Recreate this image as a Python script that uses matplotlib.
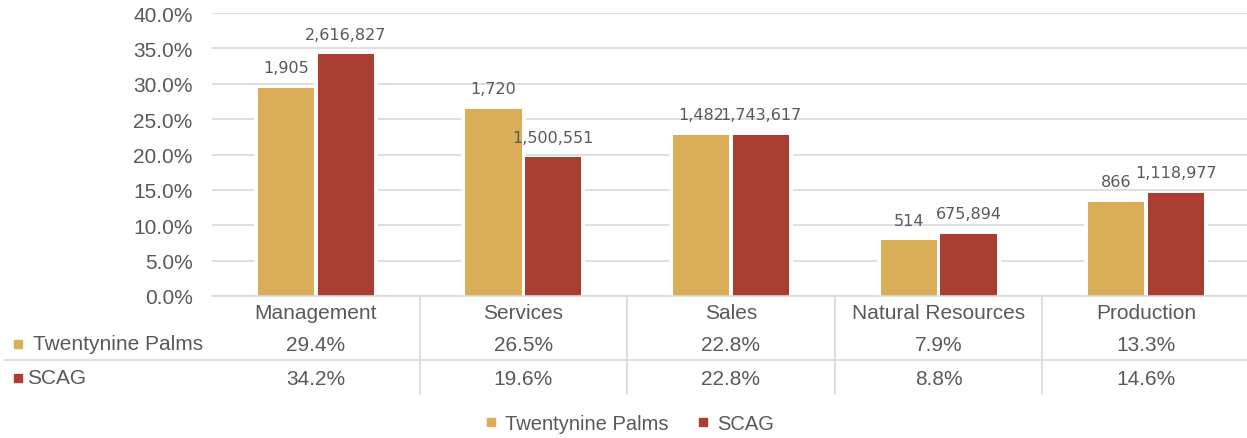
import matplotlib.pyplot as plt
from matplotlib.lines import Line2D
from matplotlib.transforms import blended_transform_factory
import numpy as np

categories = ["Management", "Services", "Sales", "Natural Resources", "Production"]
series = ["Twentynine Palms", "SCAG"]
tp_share = [29.4, 26.5, 22.8, 7.9, 13.3]
scag_share = [34.2, 19.6, 22.8, 8.8, 14.6]
tp_count = ["1,905", "1,720", "1,482", "514", "866"]
scag_count = ["2,616,827", "1,500,551", "1,743,617", "675,894", "1,118,977"]

gold = "#DAAE59"
red = "#AA3E33"
txt = "#595959"
grid = "#D9D9D9"
fs = 15

plt.rcParams["font.family"] = ["Liberation Sans", "DejaVu Sans"]

fig = plt.figure(figsize=(12.47, 4.39), dpi=100)
ax = fig.add_axes([212 / 1247, 1 - 297 / 439, 1038 / 1247, 283 / 439])

x = np.arange(len(categories))
w = 0.27
off = 0.144
tp = np.array(tp_share) / 100
sc = np.array(scag_share) / 100
# white backing so gridlines stop short of the bars
ax.bar(x - off, tp, 0.31, color="white", zorder=2.5)
ax.bar(x + off, sc, 0.31, color="white", zorder=2.5)
b1 = ax.bar(x - off, tp, w, color=gold, zorder=3)
b2 = ax.bar(x + off, sc, w, color=red, zorder=3)

for bars, labs in [(b1, tp_count), (b2, scag_count)]:
    for rect, lab in zip(bars, labs):
        ax.annotate(lab, (rect.get_x() + rect.get_width() / 2, rect.get_height()),
                    xytext=(0, 9), textcoords="offset points", ha="center", va="bottom",
                    fontsize=11.5, color=txt, family="DejaVu Sans", zorder=4)

ax.set_ylim(0, 0.4)
ax.set_xlim(-0.5, 4.5)
ticks = np.arange(0, 0.401, 0.05)
ax.set_yticks(ticks)
ax.set_yticklabels([f"{v * 100:.1f}%" for v in ticks])
ax.tick_params(axis="y", length=0, pad=14, labelsize=fs, labelcolor=txt)
ax.set_xticks([])
ax.grid(axis="y", color=grid, linewidth=1.2, zorder=0)
for s in ["top", "right", "left"]:
    ax.spines[s].set_visible(False)
ax.spines["bottom"].set_color(grid)
ax.spines["bottom"].set_linewidth(1.2)
ax.spines["bottom"].set_zorder(3.5)

# data table under the axis
tr = blended_transform_factory(ax.transData, ax.transAxes)
row_y = [-0.058, -0.172, -0.292]
for i, c in enumerate(categories):
    ax.text(i, row_y[0], c, transform=tr, ha="center", va="center", fontsize=fs, color=txt)
    ax.text(i, row_y[1], f"{tp_share[i]:.1f}%", transform=tr, ha="center", va="center", fontsize=fs, color=txt)
    ax.text(i, row_y[2], f"{scag_share[i]:.1f}%", transform=tr, ha="center", va="center", fontsize=fs, color=txt)
for i in range(1, len(categories)):
    ax.plot([i - 0.5, i - 0.5], [0, -0.348], transform=tr, color=grid, lw=1.2, clip_on=False)
fig.add_artist(Line2D([5 / 1247, 1.0], [1 - 361 / 439] * 2, color=grid, lw=1.2))

fig.add_artist(Line2D([18 / 1247], [1 - 345 / 439], marker="s", color=gold, markersize=5.5, ls=""))
fig.text(33 / 1247, 1 - 345 / 439, series[0], color=txt, fontsize=fs, ha="left", va="center")
fig.add_artist(Line2D([18 / 1247], [1 - 379 / 439], marker="s", color=red, markersize=5.5, ls=""))
fig.text(27 / 1247, 1 - 379 / 439, series[1], color=txt, fontsize=fs, ha="left", va="center")

handles = [Line2D([], [], marker="s", ls="", color=gold, markersize=6),
           Line2D([], [], marker="s", ls="", color=red, markersize=6)]
fig.legend(handles, series, loc="center", bbox_to_anchor=(0.503, 1 - 425 / 439), ncol=2,
           frameon=False, fontsize=14.5, labelcolor=txt, handletextpad=0.2, columnspacing=1.2,
           handlelength=1)

fig.savefig("out.png", dpi=100)
